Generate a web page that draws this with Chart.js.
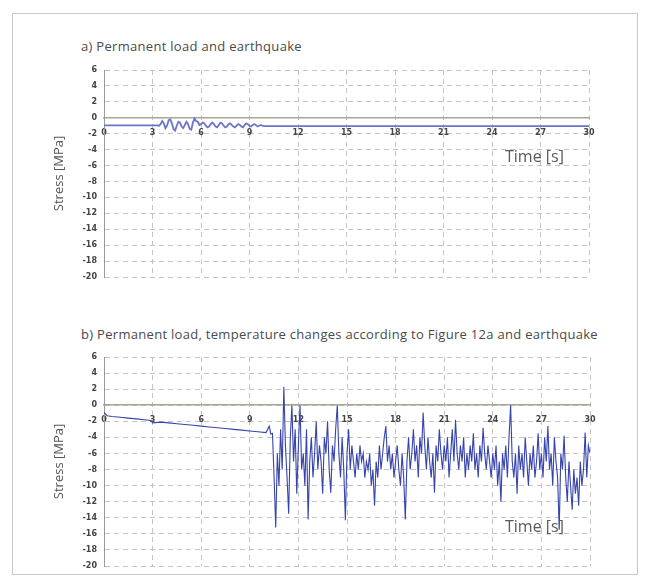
<!DOCTYPE html>
<html>
<head>
  <title>Stress - earthquake</title>
  <script src="https://cdn.jsdelivr.net/npm/chart.js"></script>
  <style>
    body {
      margin: 0;
      width: 649px;
      height: 579px;
      background-color: #fff;
      position: relative;
      overflow: hidden;
      font-family: "Open Sans", sans-serif;
    }

    .frame {
      position: absolute;
      left: 12px;
      top: 13px;
      width: 624px;
      height: 560px;
      border: 1px solid #c9c9c9;
    }

    canvas {
      position: absolute;
      left: 0;
    }

    .title {
      position: absolute;
      left: 81px;
      font-size: 13px;
      letter-spacing: 0.3px;
      color: #4a4a4a;
      white-space: nowrap;
    }

    .time-label {
      position: absolute;
      left: 505px;
      font-size: 16px;
      color: #5a5a5a;
      white-space: nowrap;
    }
  </style>
</head>
<body>
  <div class="frame"></div>

  <div class="title" style="top: 37px;">a) Permanent load and earthquake</div>
  <canvas id="chartA" width="649" height="270" style="top: 30px;"></canvas>
  <div class="time-label" style="top: 145px;">Time [s]</div>

  <div class="title" style="top: 325px;">b) Permanent load, temperature changes according to Figure 12a and earthquake</div>
  <canvas id="chartB" width="649" height="261" style="top: 318px;"></canvas>
  <div class="time-label" style="top: 515px;">Time [s]</div>

  <script>
    // axis ticks
    const timeTicks = [0, 3, 6, 9, 12, 15, 18, 21, 24, 27, 30];
    const stressTicks = [6, 4, 2, 0, -2, -4, -6, -8, -10, -12, -14, -16, -18, -20];

    // a) permanent load and earthquake
    const timeA = [0, 3.3, 3.4, 3.5, 3.6, 3.7, 3.8, 3.9, 4.0, 4.1, 4.2, 4.3, 4.4, 4.5, 4.6, 4.7, 4.8, 4.9,
      5.0, 5.1, 5.2, 5.3, 5.4, 5.5, 5.6, 5.7, 5.8, 5.9, 6.0, 6.1, 6.2, 6.3, 6.4, 6.5, 6.6, 6.7, 6.8, 6.9,
      7.0, 7.1, 7.2, 7.3, 7.4, 7.5, 7.6, 7.7, 7.8, 7.9, 8.0, 8.1, 8.2, 8.3, 8.4, 8.5, 8.6, 8.7, 8.8, 8.9,
      9.0, 9.1, 9.2, 9.3, 9.4, 9.5, 9.6, 9.7, 9.8, 9.9, 10.0, 30];
    const stressA = [-0.95, -0.95, -1.0, -0.8, -0.4, -0.7, -1.3, -1.0, -0.3, -0.2, -0.7, -1.4, -1.6, -1.0, -0.5, -0.6, -1.1, -1.3,
      -0.9, -0.5, -0.8, -1.4, -1.5, -0.6, -0.1, -0.4, -0.5, -0.9, -0.8, -0.6, -0.7, -1.0, -1.2, -1.1, -0.8, -0.6, -0.8, -1.1,
      -1.2, -0.9, -0.6, -0.7, -1.0, -1.2, -1.1, -0.8, -0.7, -0.9, -1.1, -1.2, -1.0, -0.8, -0.9, -1.1, -1.2, -0.9, -0.7, -0.8,
      -1.0, -1.1, -0.9, -0.8, -0.9, -1.1, -1.0, -0.9, -1.0, -1.05, -1.05, -1.05];

    // b) permanent load, temperature changes and earthquake
    const timeB = [0, 0.2, 0.5, 1.0, 1.5, 2.0, 2.5, 2.9, 3.0, 3.5, 4.0, 4.5, 5.0, 5.5, 6.0, 6.5, 7.0, 7.5,
      8.0, 8.5, 9.0, 9.5, 10.0, 10.2, 10.3, 10.4, 10.5,
      10.6, 10.7, 10.8, 10.9, 11.0, 11.1, 11.2, 11.3, 11.4, 11.5, 11.6, 11.7, 11.8, 11.9,
      12.0, 12.1, 12.2, 12.3, 12.4, 12.5, 12.6, 12.7, 12.8, 12.9, 13.0, 13.1, 13.2, 13.3, 13.4, 13.5, 13.6, 13.7, 13.8, 13.9,
      14.0, 14.1, 14.2, 14.3, 14.4, 14.5, 14.6, 14.7, 14.8, 14.9, 15.0, 15.1, 15.2, 15.3, 15.4, 15.5, 15.6, 15.7, 15.8, 15.9,
      16.0, 16.1, 16.2, 16.3, 16.4, 16.5, 16.6, 16.7, 16.8, 16.9, 17.0, 17.1, 17.2, 17.3, 17.4, 17.5, 17.6, 17.7, 17.8, 17.9,
      18.0, 18.1, 18.2, 18.3, 18.4, 18.5, 18.6, 18.7, 18.8, 18.9, 19.0, 19.1, 19.2, 19.3, 19.4, 19.5, 19.6, 19.7, 19.8, 19.9,
      20.0, 20.1, 20.2, 20.3, 20.4, 20.5, 20.6, 20.7, 20.8, 20.9, 21.0, 21.1, 21.2, 21.3, 21.4, 21.5, 21.6, 21.7, 21.8, 21.9,
      22.0, 22.1, 22.2, 22.3, 22.4, 22.5, 22.6, 22.7, 22.8, 22.9, 23.0, 23.1, 23.2, 23.3, 23.4, 23.5, 23.6, 23.7, 23.8, 23.9,
      24.0, 24.1, 24.2, 24.3, 24.4, 24.5, 24.6, 24.7, 24.8, 24.9, 25.0, 25.1, 25.2, 25.3, 25.4, 25.5, 25.6, 25.7, 25.8, 25.9,
      26.0, 26.1, 26.2, 26.3, 26.4, 26.5, 26.6, 26.7, 26.8, 26.9, 27.0, 27.1, 27.2, 27.3, 27.4, 27.5, 27.6, 27.7, 27.8, 27.9,
      28.0, 28.1, 28.2, 28.3, 28.4, 28.5, 28.6, 28.7, 28.8, 28.9, 29.0, 29.1, 29.2, 29.3, 29.4, 29.5, 29.6, 29.7, 29.8, 29.9, 30.0];
    const stressB = [-0.9, -1.3, -1.4, -1.5, -1.6, -1.7, -1.8, -1.9, -2.2, -2.1, -2.2, -2.3, -2.4, -2.5, -2.6, -2.7, -2.8, -2.9,
      -3.0, -3.1, -3.2, -3.3, -3.4, -2.6, -3.6, -3.5, -9,
      -15.2, -6, -10, -3, -8, 2.3, -5, -9, -13.5, -4, 0, -7, -3, -11,
      -5, 0, -8, -6, -10, -3, -14.2, -7, -4, -9, -6, -2, -8, -5, -7, -11, -4, -6, -2, -8,
      -10.9, -5, -7, -3, 0, -6, -9, -4, -8, -14.3, -6, -3, -8, -5, -7, -9, -6, -8, -5, -7,
      -6, -9, -7, -8, -6, -10, -8, -12.5, -7, -9, -5, -8, -6, -4, -2.6, -7, -5, -8, -6, -9,
      -7, -5, -8, -10, -6, -9, -14.2, -7, -4, -8, -6, -3, -7, -5, -9, -4, -6, -0.9, -5, -8,
      -4, -7, -9, -6, -10.9, -5, -7, -3, -6, -8, -5, -7, -4, -9, -6, -3, -7, -1.8, -6, -8,
      -5, -7, -4, -9, -6, -8, -5, -7, -3.5, -8, -6, -9, -5, -7, -2.8, -6, -8, -5, -7, -9,
      -6, -8, -5, -10, -7, -12, -6, -8, -5, -9, -4, 0, -7, -9, -6, -11, -5, -8, -6, -9,
      -4, -7, -10, -6, -8, -5, -9, -7, -3.5, -8, -6, -9, -4, -7, -2.6, -8, -6, -10, -4, -7,
      -9, -15.5, -6, -8, -3.8, -9, -12, -7, -10, -13, -8, -11, -9, -12.5, -7, -10, -8, -3.4, -9, -5, -6];

    function toPoints(xs, ys) {
      return xs.map((x, i) => ({ x: x, y: ys[i] }));
    }

    function makeChart(id, xs, ys, lineColor, lineWidth, pad) {
      const ctx = document.getElementById(id).getContext('2d');
      return new Chart(ctx, {
        type: 'line',
        data: {
          datasets: [{
            data: toPoints(xs, ys),
            borderColor: lineColor,
            borderWidth: lineWidth,
            pointRadius: 0,
            tension: 0,
            fill: false
          }]
        },
        options: {
          responsive: false,
          animation: false,
          layout: { padding: pad },
          plugins: {
            legend: { display: false },
            tooltip: { enabled: false }
          },
          scales: {
            x: {
              type: 'linear',
              min: 0,
              max: 30,
              position: { y: 0 },
              afterBuildTicks: function(scale) {
                scale.ticks = timeTicks.map(v => ({ value: v }));
              },
              grid: {
                color: '#c4c4c4',
                lineWidth: 1,
                drawTicks: false
              },
              border: {
                display: true,
                color: '#a6a696',
                width: 1.5,
                dash: [5, 4]
              },
              ticks: {
                autoSkip: false,
                maxRotation: 0,
                padding: 10,
                color: '#444',
                font: { family: 'DejaVu Sans', size: 8, weight: 'bold' }
              }
            },
            y: {
              type: 'linear',
              min: -20,
              max: 6,
              afterBuildTicks: function(scale) {
                scale.ticks = stressTicks.map(v => ({ value: v }));
              },
              afterFit: function(scale) {
                scale.width = 104;
              },
              grid: {
                color: '#c4c4c4',
                lineWidth: 1,
                drawTicks: false
              },
              border: {
                display: true,
                color: '#9a9a9a',
                width: 1,
                dash: [5, 4]
              },
              ticks: {
                padding: 7,
                color: '#444',
                font: { family: 'DejaVu Sans', size: 8, weight: 'bold' }
              },
              title: {
                display: true,
                text: 'Stress [MPa]',
                color: '#555',
                font: { family: 'Open Sans', size: 13 },
                padding: { top: 51, bottom: 0 }
              }
            }
          }
        }
      });
    }

    window.onload = function() {
      makeChart('chartA', timeA, stressA, '#6a74c8', 1.8, { top: 40, bottom: 23, left: 0, right: 60 });
      makeChart('chartB', timeB, stressB, '#3644ac', 1.1, { top: 39, bottom: 13, left: 0, right: 59 });
    };
  </script>
</body>
</html>
